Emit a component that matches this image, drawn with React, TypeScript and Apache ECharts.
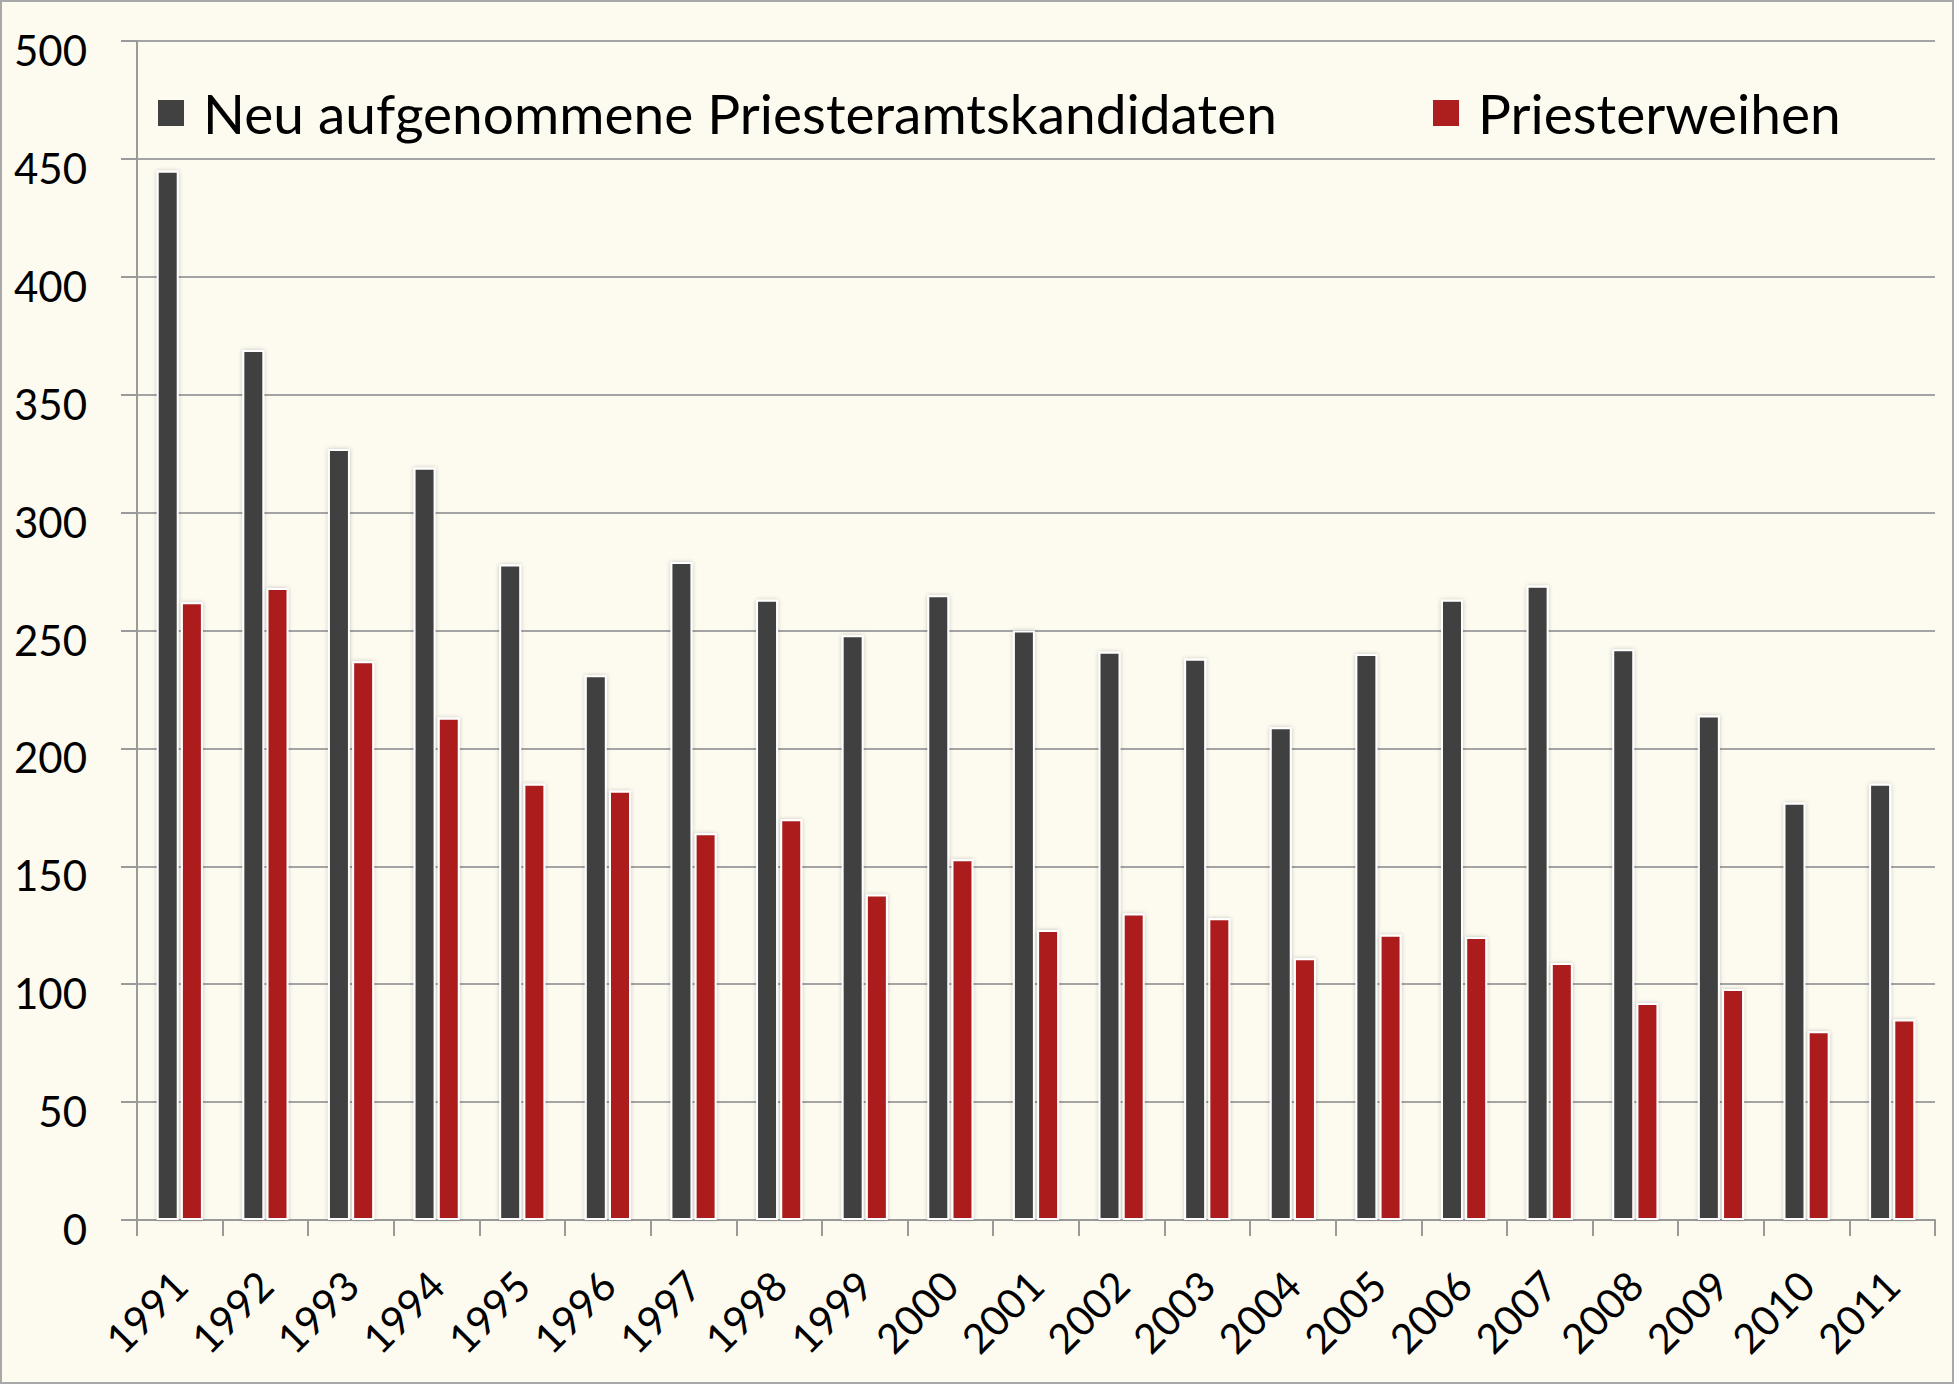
import React, { useEffect, useRef } from "react";
import * as echarts from "echarts";

const years = ["1991","1992","1993","1994","1995","1996","1997","1998","1999","2000","2001","2002","2003","2004","2005","2006","2007","2008","2009","2010","2011"];
const kandidaten = [445,369,327,319,278,231,279,263,248,265,250,241,238,209,240,263,269,242,214,177,185];
const weihen = [262,268,237,213,185,182,164,170,138,153,123,130,128,111,121,120,109,92,98,80,85];
const seriesNames = ["Neu aufgenommene Priesteramtskandidaten", "Priesterweihen"];
const yMin = 0;
const yMax = 500;
const yStep = 50;

const W = 1954;
const H = 1384;
const FONT = "Lato, 'Open Sans', sans-serif";
const DARK = "#414141";
const RED = "#AD1F1F";
const BG = "#FDFBF0";

export default function App() {
  const ref = useRef<HTMLDivElement>(null);
  useEffect(() => {
    if (!ref.current) return;
    const chart = echarts.init(ref.current, undefined, { renderer: "svg" });
    const barStyle = (color: string) => ({
      color,
      borderColor: "#ffffff",
      borderWidth: 2,
      shadowBlur: 4,
      shadowColor: "rgba(0,0,0,0.22)",
    });
    const legendCommon = {
      top: 83,
      icon: "rect",
      itemWidth: 26,
      itemHeight: 26,
      padding: 0,
      itemStyle: { borderWidth: 0, shadowBlur: 0 },
      textStyle: { fontFamily: FONT, fontSize: 55, color: "#000", lineHeight: 60, padding: [0, 0, 0, 14] },
    };
    chart.setOption({
      animation: false,
      backgroundColor: BG,
      graphic: [
        {
          type: "rect",
          shape: { x: 1, y: 1, width: W - 2, height: H - 2 },
          style: { fill: "none", stroke: "#A8A8A8", lineWidth: 2 },
          silent: true,
        },
      ],
      legend: [
        { ...legendCommon, left: 158, data: [seriesNames[0]] },
        { ...legendCommon, left: 1433, data: [seriesNames[1]] },
      ],
      grid: {
        left: 137,
        right: 19,
        top: 41,
        bottom: 164,
        containLabel: false,
        outerBoundsMode: "none",
      },
      xAxis: {
        type: "category",
        data: years,
        axisLine: { show: true, lineStyle: { color: "#9A9A9A", width: 2 } },
        axisTick: { show: true, length: 16, lineStyle: { color: "#9A9A9A", width: 2 } },
        axisLabel: {
          interval: 0,
          rotate: 45,
          margin: 58,
          fontFamily: FONT,
          fontSize: 41,
          color: "#000",
        },
        splitLine: { show: false },
      },
      yAxis: {
        type: "value",
        min: yMin,
        max: yMax,
        interval: yStep,
        axisLine: { show: true, lineStyle: { color: "#9A9A9A", width: 2 } },
        axisTick: { show: true, length: 16, lineStyle: { color: "#9A9A9A", width: 2 } },
        axisLabel: {
          margin: 50,
          color: "#000",
          formatter: "{v|{value}}",
          rich: {
            v: {
              fontFamily: FONT,
              fontSize: 42,
              color: "#000",
              lineHeight: 50,
              padding: [18, 0, 0, 0],
            },
          },
        },
        splitLine: { show: true, lineStyle: { color: "#A4A4A4", width: 2 } },
      },
      series: [
        {
          name: seriesNames[0],
          type: "bar",
          data: kandidaten,
          barWidth: 22,
          barGap: "10%",
          itemStyle: barStyle(DARK),
        },
        {
          name: seriesNames[1],
          type: "bar",
          data: weihen,
          barWidth: 22,
          barGap: "10%",
          itemStyle: barStyle(RED),
        },
      ],
    });
    return () => chart.dispose();
  }, []);
  return (
    <div
      ref={ref}
      style={{ position: "absolute", left: 0, top: 0, width: W, height: H }}
    />
  );
}
